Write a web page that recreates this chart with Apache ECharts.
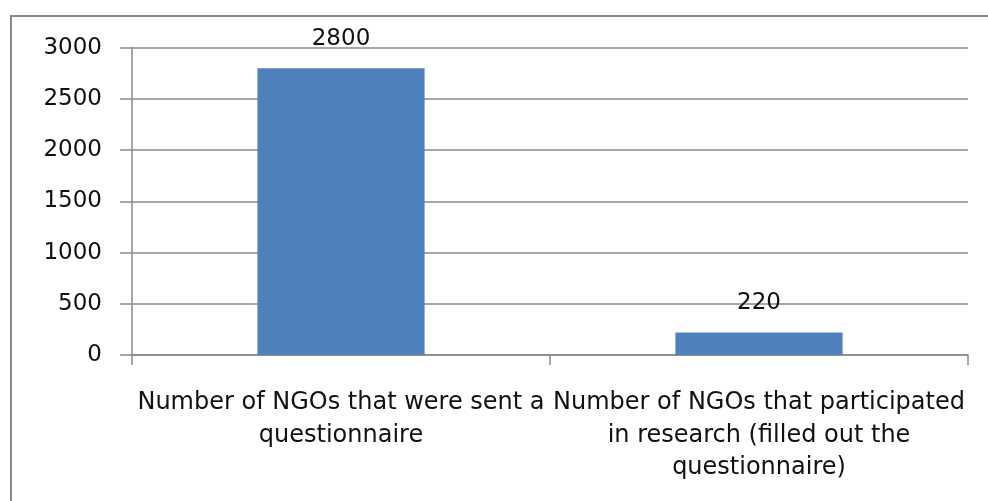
<!DOCTYPE html>
<html>
<head>
<meta charset="utf-8">
<script src="https://cdn.jsdelivr.net/npm/echarts@6/dist/echarts.min.js"></script>
<style>
html,body{margin:0;padding:0;background:#fff;}
#chart{width:988px;height:501px;}
</style>
</head>
<body>
<div id="chart"></div>
<script>
const categories = [
  "Number of NGOs that were sent a\nquestionnaire",
  "Number of NGOs that participated\nin research (filled out the\nquestionnaire)"
];
const values = [2800, 220];
const yTicks = { min: 0, max: 3000, interval: 500 };

const chart = echarts.init(document.getElementById('chart'), null, { renderer: 'canvas' });
const lineColor = '#8a8a8a';
const font = 'DejaVu Sans';
chart.setOption({
  animation: false,
  backgroundColor: '#fff',
  graphic: [{
    type: 'rect',
    shape: { x: 11, y: 16, width: 1200, height: 600 },
    style: { fill: 'none', stroke: '#8a8a8a', lineWidth: 2 },
    silent: true
  }],
  grid: { left: 132, right: 20, top: 47.7, bottom: 146, containLabel: false },
  xAxis: {
    type: 'category',
    data: categories,
    axisLine: { show: true, lineStyle: { color: lineColor, width: 1.5 } },
    axisTick: { show: true, length: 10, lineStyle: { color: lineColor, width: 1.5 } },
    axisLabel: {
      interval: 0,
      margin: 32,
      color: '#111',
      fontFamily: font,
      fontSize: 24,
      lineHeight: 32.5
    }
  },
  yAxis: {
    type: 'value',
    min: yTicks.min,
    max: yTicks.max,
    interval: yTicks.interval,
    axisLine: { show: true, lineStyle: { color: lineColor, width: 1.5 } },
    axisTick: { show: true, length: 12, lineStyle: { color: lineColor, width: 1.5 } },
    splitLine: { show: true, lineStyle: { color: lineColor, width: 1.5 } },
    axisLabel: {
      margin: 30, color: '#111', fontFamily: font, fontSize: 23,
      formatter: function (v) { return String(v); }
    }
  },
  series: [{
    type: 'bar',
    data: values,
    barWidth: '40%',
    itemStyle: { color: '#4F81BD' },
    label: {
      show: true,
      position: 'top',
      distance: 18,
      color: '#111',
      fontFamily: font,
      fontSize: 23
    }
  }]
});
</script>
</body>
</html>
